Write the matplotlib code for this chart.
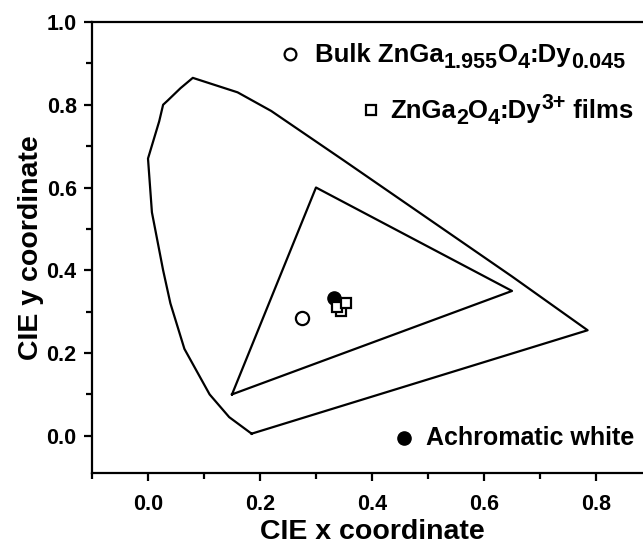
import matplotlib
matplotlib.use('Agg')
import matplotlib.pyplot as plt
from matplotlib.ticker import MultipleLocator

plt.rcParams['font.family'] = 'Liberation Sans'
plt.rcParams['font.weight'] = 'bold'

# spectral locus outline (closed by the purple line)
locus_x = [0.185, 0.145, 0.11, 0.065, 0.04, 0.027, 0.007, 0.0, 0.02, 0.027, 0.035,
           0.058, 0.08, 0.16, 0.22, 0.35, 0.50, 0.65, 0.785, 0.185]
locus_y = [0.005, 0.045, 0.10, 0.21, 0.32, 0.40, 0.54, 0.67, 0.76, 0.80, 0.81,
           0.84, 0.865, 0.83, 0.785, 0.665, 0.525, 0.385, 0.255, 0.005]

# display gamut triangle
gamut_x = [0.15, 0.30, 0.65, 0.15]
gamut_y = [0.10, 0.60, 0.35, 0.10]

bulk_x = [0.275]
bulk_y = [0.284]
films_x = [0.345, 0.338, 0.353]
films_y = [0.302, 0.311, 0.321]
white_x = [0.333]
white_y = [0.333]

LEG = 18.5
SUB = 15.5


def rich_text(ax, x, y, parts):
    # parts: (string, vertical shift in points, size); each piece is chained to the previous one
    s, shift, size = parts[0]
    t = ax.text(x, y, s, fontsize=size, fontweight='bold', va='bottom', ha='left')
    prev = shift
    for s, shift, size in parts[1:]:
        t = ax.annotate(s, xy=(1, 0), xycoords=t, xytext=(0, shift - prev),
                        textcoords='offset points', fontsize=size,
                        fontweight='bold', va='bottom', ha='left')
        prev = shift
    return t


fig = plt.figure(figsize=(6.43, 5.46), dpi=100)
ax = fig.add_axes([92 / 643, 73 / 546, 560 / 643, 451 / 546])

ax.plot(locus_x, locus_y, color='black', lw=1.6)
ax.plot(gamut_x, gamut_y, color='black', lw=1.6)

ax.plot(white_x, white_y, 'o', color='black', ms=9.5)
ax.plot(films_x, films_y, 's', mfc='white', mec='black', mew=1.6, ms=7.5)
ax.plot(bulk_x, bulk_y, 'o', mfc='white', mec='black', mew=1.6, ms=9.5)

# legend entries drawn by hand
ax.plot([0.254], [0.922], 'o', mfc='white', mec='black', mew=1.6, ms=8.5, clip_on=False)
rich_text(ax, 0.298, 0.891, [('Bulk ZnGa', 0, LEG), ('1.955', -4.5, SUB), ('O', 0, LEG),
                             ('4', -4.5, SUB), (':Dy', 0, LEG), ('0.045', -4.5, SUB)])
ax.plot([0.398], [0.788], 's', mfc='white', mec='black', mew=1.6, ms=7, clip_on=False)
rich_text(ax, 0.432, 0.757, [('ZnGa', 0, LEG), ('2', -4.5, SUB), ('O', 0, LEG),
                             ('4', -4.5, SUB), (':Dy', 0, LEG), ('3+', 6.5, SUB),
                             (' films', 0, LEG)])
ax.plot([0.457], [-0.005], 'o', color='black', ms=9.5, clip_on=False)
ax.text(0.497, -0.005, 'Achromatic white', fontsize=18, fontweight='bold',
        va='center', ha='left')

ax.set_xlim(-0.1, 0.9)
ax.set_ylim(-0.09, 1.0)
ax.xaxis.set_minor_locator(MultipleLocator(0.1))
ax.yaxis.set_minor_locator(MultipleLocator(0.1))
ax.set_xticks([0.0, 0.2, 0.4, 0.6, 0.8])
ax.set_yticks([0.0, 0.2, 0.4, 0.6, 0.8, 1.0])
ax.tick_params(which='major', direction='out', length=6, width=1.6, labelsize=15.5)
ax.tick_params(axis='x', which='major', pad=9)
ax.tick_params(axis='y', which='major', pad=5)
ax.tick_params(which='minor', direction='out', length=4, width=1.6)
ax.spines['right'].set_visible(False)
for s in ['left', 'bottom', 'top']:
    ax.spines[s].set_linewidth(1.6)

ax.set_xlabel('CIE x coordinate', fontsize=20.5, fontweight='bold', labelpad=3)
ax.set_ylabel('CIE y coordinate', fontsize=20.5, fontweight='bold', labelpad=2)

fig.savefig('out.png', dpi=100)
